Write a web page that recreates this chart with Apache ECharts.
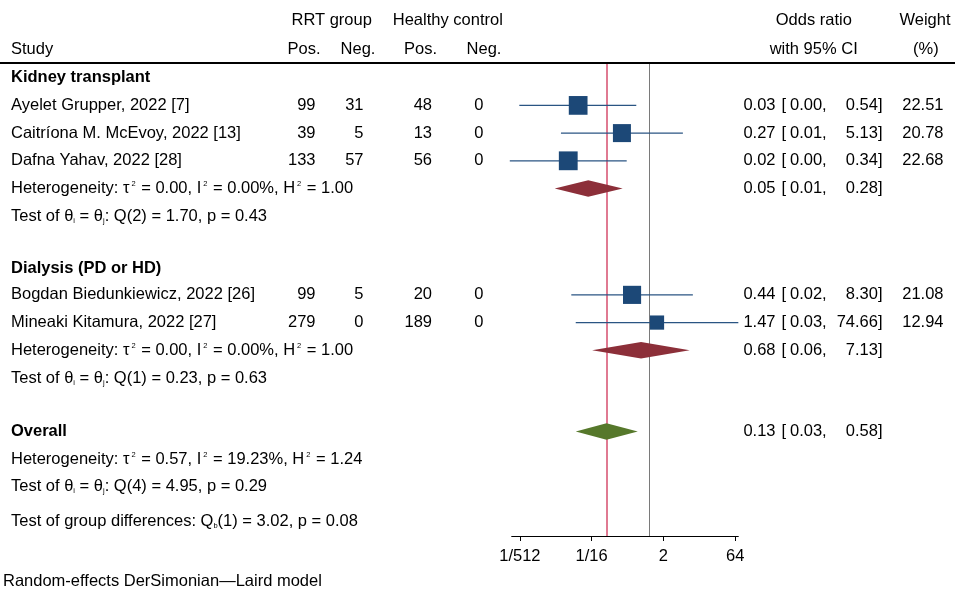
<!DOCTYPE html>
<html>
<head>
<meta charset="utf-8">
<script src="https://cdn.jsdelivr.net/npm/echarts@6/dist/echarts.min.js"></script>
<style>
  html, body { margin: 0; padding: 0; background: #fff; }
  #chart { width: 955px; height: 590px; }
</style>
</head>
<body>
<div id="chart"></div>
<script>
// ---- data ----
const studyNames = ['Ayelet Grupper, 2022 [7]', 'Caitríona M. McEvoy, 2022 [13]', 'Dafna Yahav, 2022 [28]',
                    'Bogdan Biedunkiewicz, 2022 [26]', 'Mineaki Kitamura, 2022 [27]'];
const rrtPos = [99, 39, 133, 99, 279];
const rrtNeg = [31, 5, 57, 5, 0];
const hcPos = [48, 13, 56, 20, 189];
const hcNeg = [0, 0, 0, 0, 0];
const studyOR = [0.0326, 0.27, 0.0202, 0.44, 1.47];
const studyLo = [0.0019, 0.0142, 0.0012, 0.0234, 0.029];
const studyHi = [0.54, 5.13, 0.34, 8.30, 74.66];
const studyWeight = [22.51, 20.78, 22.68, 21.08, 12.94];

const groupNames = ['Kidney transplant', 'Dialysis (PD or HD)'];
const groupOR = [0.053, 0.68];
const groupLo = [0.0105, 0.064];
const groupHi = [0.28, 7.13];
const groupHet = ['Heterogeneity: τ{sup|2} = 0.00, I{sup|2} = 0.00%, H{sup|2} = 1.00',
                  'Heterogeneity: τ{sup|2} = 0.00, I{sup|2} = 0.00%, H{sup|2} = 1.00'];
const groupTest = ['Test of θ{sub|i} = θ{sub|j}: Q(2) = 1.70, p = 0.43',
                   'Test of θ{sub|i} = θ{sub|j}: Q(1) = 0.23, p = 0.63'];

const overallOR = 0.128, overallLo = 0.029, overallHi = 0.58;
const overallHet = 'Heterogeneity: τ{sup|2} = 0.57, I{sup|2} = 19.23%, H{sup|2} = 1.24';
const overallTest = 'Test of θ{sub|i} = θ{sub|j}: Q(4) = 4.95, p = 0.29';
const groupDiff = 'Test of group differences: Q{sub|b}(1) = 3.02, p = 0.08';
const footNote = 'Random-effects DerSimonian\u2014Laird model';

const tickOR = [1 / 512, 1 / 16, 2, 64];
const tickLabels = ['1/512', '1/16', '2', '64'];

// ---- layout ----
const ROW0 = 77.7, ROWH = 27.7;           // pixel y of row 0, row pitch
const toRow = px => (px - ROW0) / ROWH;
const studyRow = [1, 2, 3, 7.84, 8.84];
const groupRow = [0, 6.87];
const pooledRow = [4, 9.84];
const testRow = [5, 10.84];
const overallRow = 12.77;
const PLOT_TOP = 64, PLOT_BOTTOM = 536, PLOT_LEFT = 511.7, PLOT_RIGHT = 738.3;
const COL = { name: 11, rrtPos: 315.5, rrtNeg: 363.5, hcPos: 432, hcNeg: 483.5,
              est: 775.5, brk: 781.5, lo: 826.7, hi: 882.5, wt: 943.5 };
const FONT = '"Liberation Sans", Arial, Helvetica, sans-serif';
const FS = 16.5;
const lg = v => Math.log2(v);
const fmt = v => v.toFixed(2);

const rich = {
  sup: { fontSize: 7.5, fontFamily: FONT, verticalAlign: 'top', fill: '#000', padding: [0, 1, 0, 2] },
  sub: { fontSize: 7.5, fontFamily: FONT, verticalAlign: 'bottom', fill: '#000' }
};

// ---- table text ----
const texts = [];
const put = (x, row, text, align, bold) => texts.push({ x, row, text: String(text), align: align || 'left', bold: !!bold });
const putCI = (row, est, lo, hi) => {
  put(COL.est, row, fmt(est), 'right');
  put(COL.brk, row, '[');
  put(COL.lo, row, fmt(lo) + ',', 'right');
  put(COL.hi, row, fmt(hi) + ']', 'right');
};

const h1 = toRow(20), h2 = toRow(49.5);
put(331.7, h1, 'RRT group', 'center');
put(447.8, h1, 'Healthy control', 'center');
put(813.8, h1, 'Odds ratio', 'center');
put(925, h1, 'Weight', 'center');
put(COL.name, h2, 'Study');
put(304, h2, 'Pos.', 'center');
put(358, h2, 'Neg.', 'center');
put(420.5, h2, 'Pos.', 'center');
put(484, h2, 'Neg.', 'center');
put(813.7, h2, 'with 95% CI', 'center');
put(925.8, h2, '(%)', 'center');

groupNames.forEach((g, i) => {
  put(COL.name, groupRow[i], g, 'left', true);
  put(COL.name, pooledRow[i], groupHet[i]);
  putCI(pooledRow[i], groupOR[i], groupLo[i], groupHi[i]);
  put(COL.name, testRow[i], groupTest[i]);
});
studyNames.forEach((s, i) => {
  const r = studyRow[i];
  put(COL.name, r, s);
  put(COL.rrtPos, r, rrtPos[i], 'right');
  put(COL.rrtNeg, r, rrtNeg[i], 'right');
  put(COL.hcPos, r, hcPos[i], 'right');
  put(COL.hcNeg, r, hcNeg[i], 'right');
  putCI(r, studyOR[i], studyLo[i], studyHi[i]);
  put(COL.wt, r, fmt(studyWeight[i]), 'right');
});
put(COL.name, overallRow, 'Overall', 'left', true);
putCI(overallRow, overallOR, overallLo, overallHi);
put(COL.name, overallRow + 1, overallHet);
put(COL.name, overallRow + 2, overallTest);
put(COL.name, toRow(521.7), groupDiff);
put(3, toRow(581.7), footNote);

// ---- plot marks ----
const ciData = studyNames.map((_, i) => [lg(studyLo[i]), lg(studyHi[i]), studyRow[i]]);
const squareData = studyNames.map((_, i) => [lg(studyOR[i]), studyRow[i], studyWeight[i]]);
const diamondColors = ['#8c2f39', '#8c2f39', '#56782b'];
const diamondData = [
  [lg(groupLo[0]), lg(groupOR[0]), lg(groupHi[0]), pooledRow[0]],
  [lg(groupLo[1]), lg(groupOR[1]), lg(groupHi[1]), pooledRow[1]],
  [lg(overallLo), lg(overallOR), lg(overallHi), overallRow]
];

const chart = echarts.init(document.getElementById('chart'), null, { renderer: 'canvas' });
chart.setOption({
  animation: false,
  backgroundColor: '#fff',
  grid: [
    { left: 0, right: 0, top: 0, bottom: 0 },
    { left: PLOT_LEFT, right: 955 - PLOT_RIGHT, top: PLOT_TOP, bottom: 590 - PLOT_BOTTOM }
  ],
  xAxis: [
    { gridIndex: 0, type: 'value', min: 0, max: 955, show: false },
    {
      gridIndex: 1, type: 'value', min: -9.57, max: 6.22, position: 'bottom',
      axisLine: { onZero: false, lineStyle: { color: '#000', width: 1 } },
      axisTick: { customValues: tickOR.map(lg), length: 5, lineStyle: { color: '#000' } },
      axisLabel: {
        customValues: tickOR.map(lg), margin: 12, color: '#000', fontSize: FS, fontFamily: FONT,
        formatter: v => tickLabels[tickOR.findIndex(t => Math.abs(lg(t) - v) < 1e-6)] || ''
      },
      splitLine: { show: false }
    }
  ],
  yAxis: [
    { gridIndex: 0, type: 'value', inverse: true, min: toRow(0), max: toRow(590), show: false },
    { gridIndex: 1, type: 'value', inverse: true, min: toRow(PLOT_TOP), max: toRow(PLOT_BOTTOM), show: false }
  ],
  series: [
    {
      type: 'custom', xAxisIndex: 0, yAxisIndex: 0, silent: true,
      data: texts.map(t => [t.x, t.row]),
      renderItem: (params, api) => {
        const t = texts[params.dataIndex];
        const p = api.coord([t.x, t.row]);
        return {
          type: 'text', x: p[0], y: p[1],
          style: {
            text: t.text, align: t.align, verticalAlign: 'middle', fill: '#000',
            fontSize: FS, fontFamily: FONT, fontWeight: t.bold ? 'bold' : 'normal', rich
          }
        };
      },
      markLine: {
        silent: true, symbol: 'none', label: { show: false },
        lineStyle: { color: '#000', width: 2, type: 'solid' },
        data: [{ yAxis: toRow(62.7) }]
      }
    },
    {
      type: 'custom', xAxisIndex: 1, yAxisIndex: 1, silent: true, z: 3,
      data: ciData,
      renderItem: (params, api) => {
        const a = api.coord([api.value(0), api.value(2)]);
        const b = api.coord([api.value(1), api.value(2)]);
        return { type: 'line', shape: { x1: a[0], y1: a[1], x2: b[0], y2: b[1] },
                 style: { stroke: '#2a5583', lineWidth: 1.3 } };
      },
      markLine: {
        silent: true, symbol: 'none', label: { show: false }, z: 1,
        data: [
          { xAxis: 0, lineStyle: { color: '#7a7a7a', width: 1, type: 'solid' } },
          { xAxis: lg(overallOR), lineStyle: { color: '#e07a92', width: 2, type: 'solid' } }
        ]
      }
    },
    {
      type: 'scatter', xAxisIndex: 1, yAxisIndex: 1, silent: true, z: 4,
      data: squareData,
      symbol: 'rect',
      symbolSize: v => 3.95 * Math.sqrt(v[2]),
      itemStyle: { color: '#1c4877', opacity: 1 }
    },
    {
      type: 'custom', xAxisIndex: 1, yAxisIndex: 1, silent: true, z: 4,
      data: diamondData,
      renderItem: (params, api) => {
        const row = api.value(3);
        const l = api.coord([api.value(0), row]);
        const c = api.coord([api.value(1), row]);
        const r = api.coord([api.value(2), row]);
        const h = 8.3;
        return { type: 'polygon',
                 shape: { points: [[l[0], c[1]], [c[0], c[1] - h], [r[0], c[1]], [c[0], c[1] + h]] },
                 style: { fill: diamondColors[params.dataIndex] } };
      }
    }
  ]
});
</script>
</body>
</html>
